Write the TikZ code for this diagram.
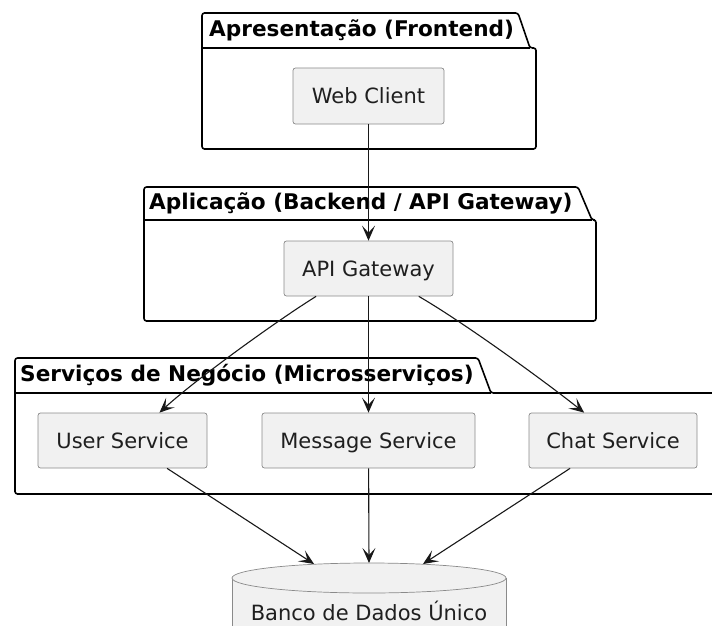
\documentclass[tikz,border=0pt]{standalone}
\usepackage{fontspec}
\setmainfont{DejaVu Sans}
\usetikzlibrary{arrows.meta}
\definecolor{boxfill}{HTML}{F1F1F1}
\definecolor{boxline}{HTML}{8A8A8A}
\definecolor{linkcol}{HTML}{181818}
\begin{document}
\begin{tikzpicture}[x=1pt,y=-1pt,
  comp/.style={draw=boxline, fill=boxfill, rounded corners=2.5pt, line width=0.7pt,
    inner sep=0pt, text=black!88, text height=15.3pt, text depth=0pt,
    font=\fontsize{21}{25}\selectfont},
  pkg/.style={draw=black, line width=1.6pt, rounded corners=2.5pt, line join=round},
  ptitle/.style={anchor=west, inner sep=0pt, font=\bfseries\fontsize{21.6}{26}\selectfont},
  link/.style={draw=linkcol, line width=1.1pt,
    -{Stealth[length=15pt, width=13pt, inset=7pt]}},
  dbline/.style={draw=boxline, line width=0.7pt}]
\useasboundingbox (0,0) rectangle (712,626);
\clip (0,0) rectangle (712,626);

% package: Apresentação
\draw[pkg] (202,48) -- (202,13) -- (518,13) -- (530,48) -- (536,48) -- (536,149) -- (202,149) -- cycle;
\draw[pkg] (202,48) -- (530,48);
\node[ptitle] (t1) at (209,30.5) {Apresentação (Frontend)};

% package: Aplicação
\draw[pkg] (144,220) -- (144,187) -- (578,187) -- (592,220) -- (596,220) -- (596,321) -- (144,321) -- cycle;
\draw[pkg] (144,220) -- (592,220);
\node[ptitle] (t2) at (149,203.5) {Aplicação (Backend / API Gateway)};

% package: Serviços de Negócio
\draw[pkg] (15,393) -- (15,358) -- (478,358) -- (491,393) -- (730,393) -- (730,494) -- (15,494) -- cycle;
\draw[pkg] (15,393) -- (491,393);
\node[ptitle] (t3) at (20,375.5) {Serviços de Negócio (Microsserviços)};

% components
\node[comp, minimum width=151pt, minimum height=56pt] (web) at (368.5,96) {Web Client};
\node[comp, minimum width=169pt, minimum height=55pt] (api) at (368.5,268.5) {API Gateway};
\node[comp, minimum width=169pt, minimum height=55pt] (user) at (122.5,440.5) {User Service};
\node[comp, minimum width=213pt, minimum height=55pt] (msg) at (368.5,440.5) {Message Service};
\node[comp, minimum width=168pt, minimum height=55pt] (chat) at (613,440.5) {Chat Service};

% database
\fill[boxfill] (232,578) rectangle (506,650);
\draw[dbline] (232,578) -- (232,650) (506,578) -- (506,650);
\draw[dbline, fill=boxfill] (369,578) ellipse [x radius=137, y radius=15];
\node[inner sep=0pt, text=black!88, font=\fontsize{21}{25}\selectfont] (db) at (369,611) {Banco de Dados Único};
\coordinate (dbA) at (314,564);
\coordinate (dbB) at (369,563);
\coordinate (dbC) at (423,564);

% connectors
\draw[link] (web) -- (api);
\draw[link] (api) -- (msg);
\draw[link] (api.208.6) .. controls (275,322) and (195,380) .. (user.37.8);
\draw[link] (api.331.9) .. controls (463,322) and (543,380) .. (chat.136.5);
\draw[link] (user.-32.3) -- (dbA);
\draw[link] (msg) -- (dbB);
\draw[link] (chat.213.9) -- (dbC);
\end{tikzpicture}
\end{document}
